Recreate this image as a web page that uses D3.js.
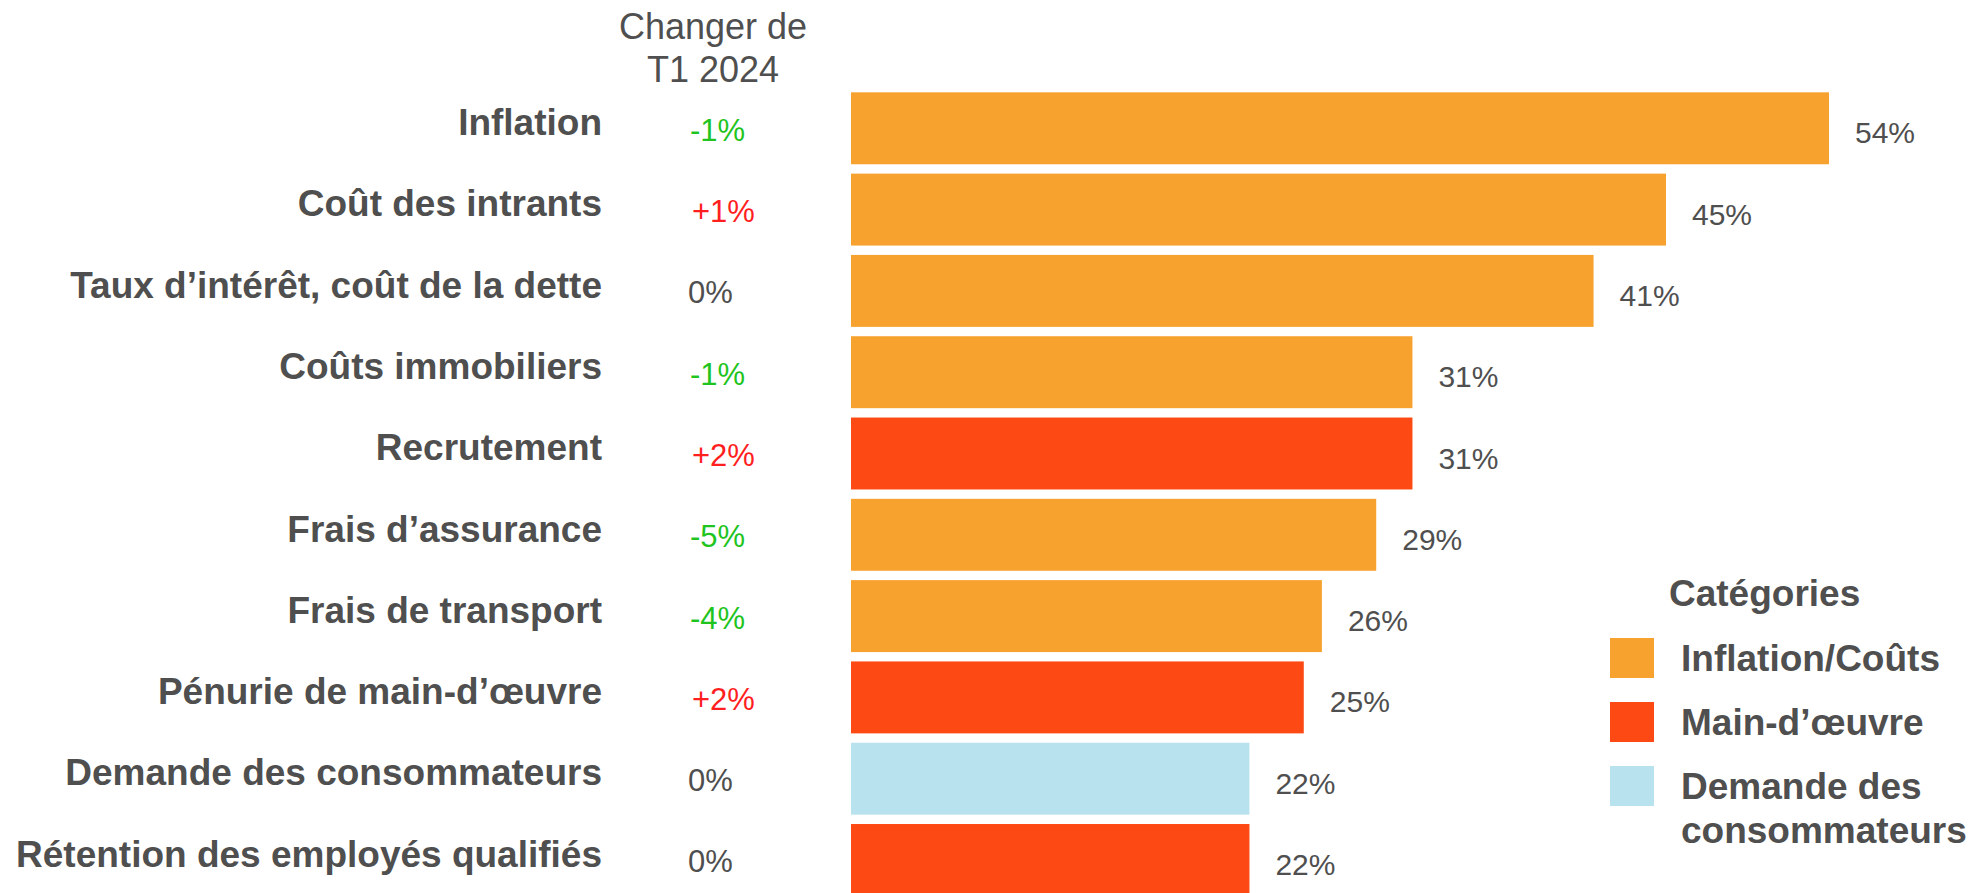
<!DOCTYPE html>
<html>
<head>
<meta charset="utf-8">
<script src="https://cdn.jsdelivr.net/npm/d3@7"></script>
<style>
    body { margin: 0; background: #fff; }
    svg { display: block; font-family: "Liberation Sans", Arial, sans-serif; }
</style>
</head>
<body>
<div id="chart"></div>
<script>
let categories = ["Inflation", "Coût des intrants", "Taux d’intérêt, coût de la dette", "Coûts immobiliers",
    "Recrutement", "Frais d’assurance", "Frais de transport", "Pénurie de main-d’œuvre",
    "Demande des consommateurs", "Rétention des employés qualifiés"];
let values = [54, 45, 41, 31, 31, 29, 26, 25, 22, 22];
let changes = [-1, 1, 0, -1, 2, -5, -4, 2, 0, 0];
let groups = ["Inflation/Coûts", "Inflation/Coûts", "Inflation/Coûts", "Inflation/Coûts", "Main-d’œuvre",
    "Inflation/Coûts", "Inflation/Coûts", "Main-d’œuvre", "Demande des consommateurs", "Main-d’œuvre"];
let legendLabels = ["Inflation/Coûts", "Main-d’œuvre", "Demande des consommateurs"];
let legendColors = ["#f7a22f", "#fd4914", "#b9e2ef"];
let headerLines = ["Changer de", "T1 2024"];
let legendTitle = "Catégories";

let width = 1982, height = 893;
let textColor = "#4f4f4f";

let svg = d3.select("#chart").append("svg")
    .attr("width", width)
    .attr("height", height);

let rows = categories.map((c, i) => ({name: c, value: values[i], change: changes[i], group: groups[i]}));

// scales
let x = d3.scaleLinear()
    .domain([0, d3.max(values)])
    .range([851, 1829]);

let y = d3.scaleBand()
    .domain(categories)
    .range([87.65, 87.65 + 81.3 * categories.length])
    .paddingInner(0.115)
    .paddingOuter(0.0575);

let color = d3.scaleOrdinal()
    .domain(legendLabels)
    .range(legendColors);

// bars
svg.append("g").selectAll("rect")
    .data(rows)
    .enter()
    .append("rect")
    .attr("x", x(0))
    .attr("y", d => y(d.name))
    .attr("width", d => x(d.value) - x(0))
    .attr("height", y.bandwidth())
    .attr("fill", d => color(d.group));

// value labels
svg.append("g").selectAll("text")
    .data(rows)
    .enter()
    .append("text")
    .attr("x", d => x(d.value) + 26)
    .attr("y", d => y(d.name) + y.bandwidth() / 2 + 15)
    .attr("font-size", 30)
    .attr("fill", textColor)
    .text(d => d.value + "%");

// category labels
svg.append("g").selectAll("text")
    .data(rows)
    .enter()
    .append("text")
    .attr("x", 602)
    .attr("y", d => y(d.name) + y.bandwidth() / 2 + 6.7)
    .attr("text-anchor", "end")
    .attr("font-size", 37)
    .attr("font-weight", "bold")
    .attr("fill", textColor)
    .text(d => d.name);

// change vs T1 2024
function changeColor(c) {
    if (c > 0) return "#ff1f1f";
    if (c < 0) return "#1fc41f";
    return textColor;
}
svg.append("g").selectAll("text")
    .data(rows)
    .enter()
    .append("text")
    .attr("x", d => d.change > 0 ? 692 : (d.change < 0 ? 690 : 688))
    .attr("y", d => y(d.name) + y.bandwidth() / 2 + 12.4)
    .attr("font-size", 31)
    .attr("fill", d => changeColor(d.change))
    .text(d => (d.change > 0 ? "+" : "") + d.change + "%");

// header
svg.append("g").selectAll("text")
    .data(headerLines)
    .enter()
    .append("text")
    .attr("x", 713)
    .attr("y", (d, i) => 39.3 + i * 42.4)
    .attr("text-anchor", "middle")
    .attr("font-size", 36)
    .attr("fill", textColor)
    .text(d => d);

// legend
let legend = svg.append("g").attr("transform", "translate(1610,0)");
legend.append("text")
    .attr("x", 59)
    .attr("y", 606)
    .attr("font-size", 37)
    .attr("font-weight", "bold")
    .attr("fill", textColor)
    .text(legendTitle);

let items = legend.selectAll(".item")
    .data(legendLabels)
    .enter()
    .append("g")
    .attr("class", "item")
    .attr("transform", (d, i) => "translate(0," + (638 + i * 64) + ")");

items.append("rect")
    .attr("width", 44)
    .attr("height", 40)
    .attr("fill", d => color(d));

items.each(function (d) {
    let words = d === "Demande des consommateurs" ? ["Demande des", "consommateurs"] : [d];
    d3.select(this).selectAll("text")
        .data(words)
        .enter()
        .append("text")
        .attr("x", 71)
        .attr("y", (w, j) => 33 + j * 44.4)
        .attr("font-size", 37)
        .attr("font-weight", "bold")
        .attr("fill", textColor)
        .text(w => w);
});
</script>
</body>
</html>
